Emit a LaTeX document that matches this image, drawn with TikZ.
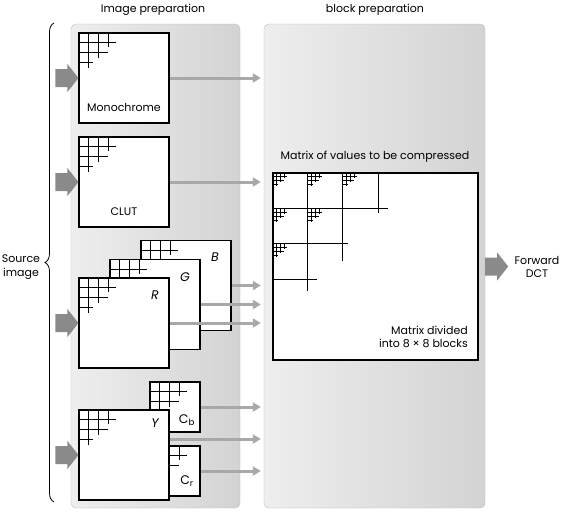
\documentclass[tikz,border=0pt]{standalone}
\usepackage{fontspec}
\setmainfont{Poppins}
\usetikzlibrary{arrows.meta,decorations.pathreplacing,calc}
\definecolor{panelL}{HTML}{EEEEEE}
\definecolor{panelR}{HTML}{D3D3D3}
\definecolor{connc}{HTML}{A8A8A8}
\definecolor{bfill}{HTML}{8A8A8A}
\begin{document}
\begin{tikzpicture}[x=1pt,y=-1pt,font=\fontsize{11}{13.5}\selectfont,
  panel/.style={draw=gray!55, rounded corners=5pt, left color=panelL, right color=panelR, inner sep=0pt, minimum height=484pt},
  imgbox/.style={draw, fill=white, line width=1.1pt, inner sep=0pt, minimum size=90pt},
  smallbox/.style={imgbox, minimum size=50pt},
  connector/.style={draw=connc, line width=3pt, -{Triangle[length=8pt,width=9pt]}, shorten >=3pt},
  lbl/.style={inner sep=0pt},
  chan/.style={inner sep=0pt, font=\fontsize{12.5}{14}\selectfont},
  qgrid/.pic={\draw[line width=0.9pt] (10,0)--(10,36) (20,0)--(20,26) (30,0)--(30,15)
      (0,10)--(38,10) (0,20)--(30,20) (0,30)--(15,30);},
  mgrid/.pic={\draw[line width=0.7pt] (10,0)--(10,36) (20,0)--(20,26) (30,0)--(30,15)
      (0,10)--(38,10) (0,20)--(30,20) (0,30)--(15,30);},
  barrow/.pic={\fill[bfill] (-23,-9) -- (-11,-9) -- (-11,-14) -- (0,0) -- (-11,14) -- (-11,9) -- (-23,9) -- cycle;}
]
\useasboundingbox (0,0) rectangle (562,515);

% panels
\node[panel, minimum width=169pt] (lp) at (155.5,266) {};
\node[panel, minimum width=221pt] (rp) at (374.5,266) {};
\node[lbl] (t1) at (153,10) {Image preparation};
\node[lbl] (t2) at (375,10) {block preparation};

% monochrome
\node[imgbox] (mono) at (124,78) {};
\pic at (mono.north west) {qgrid};
\node[lbl] (monol) at (124,107) {Monochrome};

% CLUT
\node[imgbox] (clut) at (124,182) {};
\pic at (clut.north west) {qgrid};
\node[lbl] (clutl) at (124,212) {CLUT};

% RGB
\node[imgbox] (B) at (186,285.5) {};
\pic at (B.north west) {qgrid};
\node[imgbox] (G) at (155,304.5) {};
\pic at (G.north west) {qgrid};
\node[imgbox] (R) at (124,323) {};
\pic at (R.north west) {qgrid};
\node[chan] (Bl) at (215,257) {\itshape B};
\node[chan] (Gl) at (185,277) {\itshape G};
\node[chan] (Rl) at (155,295) {\itshape R};

% YCbCr
\node[smallbox] (Cb) at (175,407) {};
\pic at (Cb.north west) {qgrid};
\node[smallbox] (Cr) at (175,471) {};
\pic at (Cr.north west) {qgrid};
\node[imgbox] (Y) at (124,455) {};
\pic at (Y.north west) {qgrid};
\node[chan] (Yl) at (155,423) {\itshape Y};
\node[chan] (Cbl) at (187,420) {C\textsubscript{b}};
\node[chan] (Crl) at (187,481) {C\textsubscript{r}};

% input block arrows
\pic at (mono.west) {barrow};
\pic at (clut.west) {barrow};
\pic at (R.west) {barrow};
\pic at (Y.west) {barrow};

% connectors
\draw[connector] (mono.east) -- (mono.east -| rp.west);
\draw[connector] (clut.east) -- (clut.east -| rp.west);
\draw[connector] (B.east) -- (B.east -| rp.west);
\draw[connector] (G.east) -- (G.east -| rp.west);
\draw[connector] (R.east) -- (R.east -| rp.west);
\draw[connector] (Cb.east) -- (Cb.east -| rp.west);
\draw[connector] ([yshift=16pt]Y.east) -- ([yshift=16pt]Y.east -| rp.west);
\draw[connector] (Cr.east) -- (Cr.east -| rp.west);

% matrix
\node[lbl] (matl) at (375,157) {Matrix of values to be compressed};
\node[draw, fill=white, line width=1.1pt, inner sep=0pt, minimum width=205pt, minimum height=187pt] (mat) at (375.5,266.5) {};
\draw[line width=1pt] ($(mat.north west)+(35,0)$) -- +(0,119)
  ($(mat.north west)+(70,0)$) -- +(0,89)
  ($(mat.north west)+(106,0)$) -- +(0,41)
  ($(mat.north west)+(0,36)$) -- +(116,0)
  ($(mat.north west)+(0,71)$) -- +(76,0)
  ($(mat.north west)+(0,107)$) -- +(45,0);
\pic[scale=0.38] at ($(mat.north west)+(0,0)$) {mgrid};
\pic[scale=0.38] at ($(mat.north west)+(35,0)$) {mgrid};
\pic[scale=0.38] at ($(mat.north west)+(70,0)$) {mgrid};
\pic[scale=0.38] at ($(mat.north west)+(0,36)$) {mgrid};
\pic[scale=0.38] at ($(mat.north west)+(35,36)$) {mgrid};
\pic[scale=0.38] at ($(mat.north west)+(0,71)$) {mgrid};
\node[lbl, anchor=east, align=right] (matd) at (468,337) {Matrix divided\\into 8 × 8 blocks};

% output
\pic at ($(rp.east |- mat.east)+(23,0)$) {barrow};
\node[lbl, align=center] (dct) at (537,267) {Forward\\DCT};

% source brace
\draw[decorate, decoration={brace, amplitude=9pt}, line width=0.8pt] (54,502) -- (54,23);
\node[lbl, align=center] (src) at (21,267) {Source\\image};
\end{tikzpicture}
\end{document}
